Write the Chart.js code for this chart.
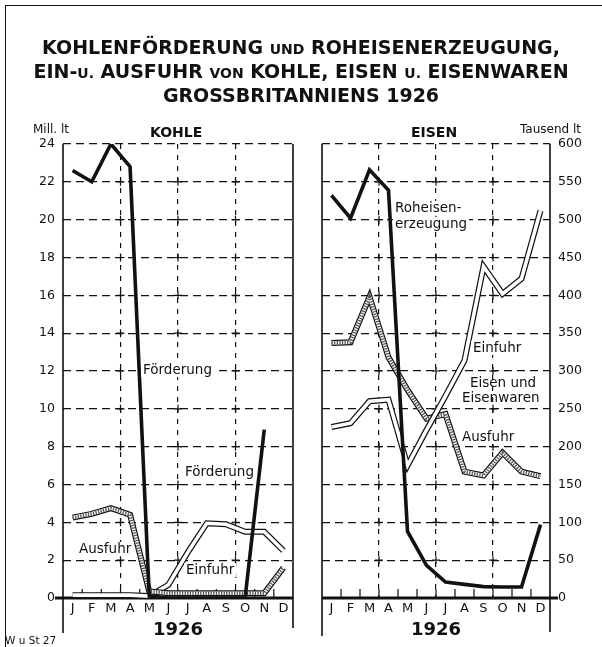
<!DOCTYPE html>
<html><head><meta charset="utf-8">
<script src="https://cdn.jsdelivr.net/npm/chart.js@4.4.0/dist/chart.umd.min.js"></script>
<style>
html,body{margin:0;padding:0;background:#fff;}
#wrap{position:relative;width:602px;height:647px;overflow:hidden;background:#fff;font-family:"DejaVu Sans",sans-serif;color:#111;}
#frame{position:absolute;left:5px;top:5px;width:620px;height:660px;border-left:1.5px solid #111;border-top:1.5px solid #111;}
canvas{position:absolute;top:0;}
.t{position:absolute;white-space:nowrap;line-height:1;}
.title{left:0;width:602px;text-align:center;font-weight:bold;font-size:19px;letter-spacing:0px;}
.sc{font-size:14px;}
.lab{font-size:13.5px;}
.bg{background:#fff;padding:0 2px;}
</style></head>
<body>
<div id="wrap">
  <div id="frame"></div>
  <canvas id="c1" width="300" height="647" style="left:0px;width:300px;height:647px"></canvas>
  <canvas id="c2" width="302" height="647" style="left:300px;width:302px;height:647px"></canvas>

  <div class="t title" style="top:38px">KOHLENFÖRDERUNG <span class="sc">UND</span> ROHEISENERZEUGUNG,</div>
  <div class="t title" style="top:62px">EIN-<span class="sc">U.</span> AUSFUHR <span class="sc">VON</span> KOHLE, EISEN <span class="sc">U.</span> EISENWAREN</div>
  <div class="t title" style="top:86px">GROSSBRITANNIENS 1926</div>

  <div class="t" style="left:33px;top:123px;font-size:12px">Mill. lt</div>
  <div class="t" style="left:150px;top:125px;font-size:14px;font-weight:bold">KOHLE</div>
  <div class="t" style="left:411px;top:125px;font-size:14px;font-weight:bold">EISEN</div>
  <div class="t" style="left:520px;top:123px;font-size:12px">Tausend lt</div>

  <div class="t lab bg" style="left:141px;top:363px">Förderung</div>
  <div class="t lab bg" style="left:183px;top:465px">Förderung</div>
  <div class="t lab bg" style="left:77px;top:542px">Ausfuhr</div>
  <div class="t lab bg" style="left:184px;top:563px">Einfuhr</div>

  <div class="t lab bg" style="left:393px;top:201px">Roheisen-</div>
  <div class="t lab bg" style="left:393px;top:217px">erzeugung</div>
  <div class="t lab bg" style="left:471px;top:341px">Einfuhr</div>
  <div class="t lab" style="left:470px;top:376px">Eisen und</div>
  <div class="t lab" style="left:462px;top:391px">Eisenwaren</div>
  <div class="t lab bg" style="left:460px;top:430px">Ausfuhr</div>

  <div class="t" style="left:5px;top:635px;font-size:10.5px">W u St 27</div>
</div>
<script>
// ---------- DATA ----------
const months = ['J','F','M','A','M','J','J','A','S','O','N','D'];
const yearLabel = '1926';
// Kohle (Mill. lt)
const kohleFoerderung = [22.6, 22.0, 24.0, 22.8, 0.1, 0, 0, 0, 0, 0, 8.9, null];
const kohleAusfuhr    = [4.25, 4.45, 4.75, 4.4, 0.35, 0.25, 0.25, 0.25, 0.25, 0.25, 0.25, 1.6];
const kohleEinfuhr    = [0.15, 0.15, 0.15, 0.15, 0.1, 0.7, 2.4, 3.95, 3.9, 3.5, 3.5, 2.5];
const kohleTicks      = [0, 2, 4, 6, 8, 10, 12, 14, 16, 18, 20, 22, 24];
// Eisen (Tausend lt)
const roheisen        = [532, 502, 566, 539, 88, 43, 21, 18, 15, 14.5, 14.5, 97];
const eisenEinfuhr    = [226, 231, 260, 262, 175, 222, 267, 314, 438, 402, 422, 512];
const eisenAusfuhr    = [337, 338, 398, 318, 275, 237, 243, 167, 162, 192, 167, 161];
const eisenTicks      = [0, 50, 100, 150, 200, 250, 300, 350, 400, 450, 500, 550, 600];

// ---------- helpers ----------
function doubleLine(data, hatched, base){
  const ds = [
    {data, borderColor:'#111', borderWidth:6, order:base+2},
    {data, borderColor:'#fff', borderWidth:3.6, order:base+1}
  ];
  if (hatched) ds.push({data, borderColor:'#555', borderWidth:3.4, borderDash:[1.3,1.3], order:base});
  return ds;
}
function boundary(x, i){
  if (i <= 0) return x.getPixelForValue(0) - (x.getPixelForValue(1)-x.getPixelForValue(0))/2;
  return (x.getPixelForValue(i-1) + x.getPixelForValue(i))/2;
}
const framePlugin = {
  id:'frame',
  beforeDatasetsDraw(chart, args, o){
    const {ctx, chartArea:a, scales:{x,y}} = chart;
    ctx.save();
    ctx.strokeStyle = '#111';
    ctx.setLineDash([]);
    ctx.lineWidth = 1.2;
    for (const v of [3,6,9]){
      const px = boundary(x, v);
      for (const t of o.ticks){
        if (t === o.ticks[0] || t === o.ticks[o.ticks.length-1]) continue;
        const py = y.getPixelForValue(t);
        ctx.beginPath();
        ctx.moveTo(px-4, py); ctx.lineTo(px+4, py);
        ctx.moveTo(px, py-4); ctx.lineTo(px, py+4);
        ctx.stroke();
      }
    }
    for (let i=1;i<12;i++){
      const px = boundary(x, i);
      ctx.beginPath(); ctx.moveTo(px, a.bottom); ctx.lineTo(px, a.bottom-9); ctx.stroke();
    }
    ctx.lineWidth = 1.6;
    ctx.beginPath();
    ctx.moveTo(a.left, a.top); ctx.lineTo(a.left, o.leftBottom);
    ctx.moveTo(a.right, a.top); ctx.lineTo(a.right, o.rightBottom);
    ctx.stroke();
    ctx.lineWidth = 3;
    ctx.beginPath(); ctx.moveTo(o.z0, a.bottom); ctx.lineTo(o.z1, a.bottom); ctx.stroke();
    ctx.restore();
  }
};
function baseOptions(ticks, yPos, yWidth, pad){
  return {
    responsive:false, animation:false, devicePixelRatio:1,
    layout:{padding:pad},
    elements:{point:{radius:0}, line:{tension:0, borderJoinStyle:'miter', fill:false, borderCapStyle:'butt'}},
    plugins:{legend:{display:false}, tooltip:{enabled:false}},
    scales:{
      x:{
        type:'category', offset:true,
        grid:{offset:true, drawTicks:false, lineWidth:1.2,
          color:c => ([3,6,9].includes(c.index) ? '#111' : 'rgba(0,0,0,0)')},
        border:{display:false, dash:[5,6]},
        ticks:{color:'#111', font:{family:'DejaVu Sans', size:13}, padding:3, maxRotation:0, autoSkip:false},
        title:{display:true, text:yearLabel, color:'#111', font:{family:'DejaVu Sans', size:18, weight:'bold'}, padding:{top:0,bottom:6}},
        afterFit:s => { s.height = 49; }
      },
      y:{
        position:yPos, min:ticks[0], max:ticks[ticks.length-1],
        afterBuildTicks:s => { s.ticks = ticks.map(v => ({value:v})); },
        grid:{drawTicks:false, lineWidth:1.2, color:'#111'},
        border:{display:false, dash:[8,5]},
        ticks:{color:'#111', font:{family:'DejaVu Sans', size:12.5}, padding:8},
        afterFit:s => { s.width = yWidth; }
      }
    }
  };
}

// ---------- left chart: KOHLE ----------
const o1 = baseOptions(kohleTicks, 'left', 63, {top:144, left:0, right:7, bottom:0});
o1.plugins.frame = {ticks:kohleTicks, leftBottom:633, rightBottom:628, z0:55, z1:293};
new Chart(document.getElementById('c1'), {
  type:'line',
  data:{labels:months, datasets:[
    ...doubleLine(kohleEinfuhr, false, 10),
    ...doubleLine(kohleAusfuhr, true, 5),
    {data:kohleFoerderung, borderColor:'#111', borderWidth:3.6, order:0}
  ]},
  options:o1,
  plugins:[framePlugin]
});

// ---------- right chart: EISEN ----------
const o2 = baseOptions(eisenTicks, 'right', 52, {top:144, left:22, right:0, bottom:0});
o2.plugins.frame = {ticks:eisenTicks, leftBottom:636, rightBottom:632, z0:22, z1:258};
new Chart(document.getElementById('c2'), {
  type:'line',
  data:{labels:months, datasets:[
    ...doubleLine(eisenAusfuhr, true, 10),
    ...doubleLine(eisenEinfuhr, false, 5),
    {data:roheisen, borderColor:'#111', borderWidth:3.6, order:0}
  ]},
  options:o2,
  plugins:[framePlugin]
});
</script>
</body></html>
